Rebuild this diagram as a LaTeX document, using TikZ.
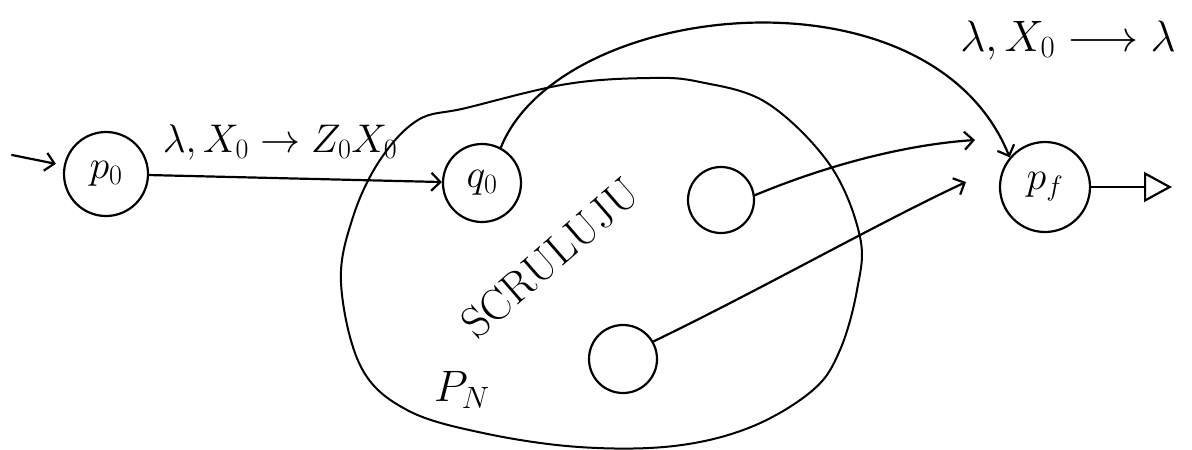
\documentclass[tikz,border=0pt]{standalone}
\usepackage{fix-cm}
\usepackage{fontspec}
\usetikzlibrary{arrows.meta}
\begin{document}
\begin{tikzpicture}[x=1pt,y=-1pt,
  line width=2.2pt, line cap=round, line join=round,
  state/.style={draw,circle,inner sep=0pt,font=\fontsize{40}{46}\selectfont},
  arr/.style={-{Straight Barb[length=9pt,width=18pt]}},
  lab/.style={font=\fontsize{40}{46}\selectfont, inner sep=0pt}]
\useasboundingbox (0,0) rectangle (1192,450);
\fill[white] (0,0) rectangle (1192,450);
% states
\node[state,minimum size=84pt] (p0) at (106,174) {$p_0$};
\node[state,minimum size=78pt] (q0) at (482,183) {$q_0$};
\node[state,minimum size=66pt] (c1) at (721,200) {};
\node[state,minimum size=68pt] (c2) at (623,359) {};
\node[state,minimum size=90pt] (pf) at (1045,187) {$p_f$};
% the automaton P_N
\draw[line width=2pt] plot[smooth cycle, tension=0.6] coordinates {
  (466,108) (567,84) (650,78) (700,82) (767,103) (830,165) (860,237)
  (857,290) (840,350) (813,390) (751,427) (674,446) (579,447) (483,433)
  (407,410) (361,367) (341,283) (353,217) (380,160) (418,120)};
% labels
\node[lab] (l1) at (280,142) {$\lambda, X_0 \to Z_0X_0$};
\node[lab, font=\fontsize{44}{50}\selectfont] (l2) at (1068,40) {$\lambda, X_0 \longrightarrow \lambda$};
\node[lab, rotate=41, font=\fontsize{44}{50}\selectfont] (scr) at (550,258) {SCRULUJU};
\node[lab, font=\fontsize{44}{50}\selectfont] (pn) at (462,390) {$P_N$};
% connectors
\coordinate (s0) at (12,155);
\draw[arr, shorten >=8pt] (s0) -- (p0);
\draw[arr] (p0) -- (q0);
\draw[arr] (q0.62) .. controls (560,0) and (930,-40) .. (pf.140);
\coordinate (t1) at (975,140);
\draw[arr] (c1.8) .. controls (820,168) and (900,145) .. (t1);
\coordinate (t2) at (966,182);
\draw[arr] (c2.30) .. controls (760,290) and (880,222) .. (t2);
\coordinate (e) at (1172,187);
\draw[-{Triangle[open,length=28pt,width=30pt]}] (pf) -- (e);
\end{tikzpicture}
\end{document}
